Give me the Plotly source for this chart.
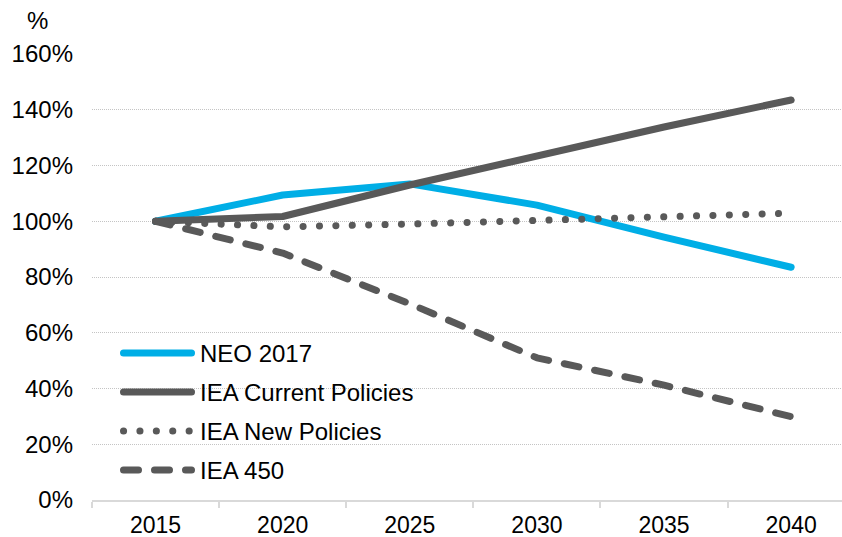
import plotly.graph_objects as go

# Index of emissions relative to 2015 (%), by scenario
years = ["2015", "2020", "2025", "2030", "2035", "2040"]
neo_2017 = [100, 109.4, 113.4, 105.8, 94.3, 83.5]
iea_current = [100, 101.7, 113.0, 123.6, 133.8, 143.5]
iea_new = [100, 98.0, 99.0, 100.4, 101.8, 102.9]
iea_450 = [100, 88.6, 70.4, 51.0, 41.2, 29.9]

series_names = ["NEO 2017", "IEA Current Policies", "IEA New Policies", "IEA 450"]
series_values = [neo_2017, iea_current, iea_new, iea_450]
series_colors = ["#00AEE6", "#595959", "#595959", "#595959"]
series_dash = ["solid", "solid", "0.1px,16.3px", "15px,16px"]

y_ticks = [0, 20, 40, 60, 80, 100, 120, 140, 160]
y_tick_text = [f"{v}%" for v in y_ticks]

FONT = "Liberation Sans, Arial, sans-serif"
W, H = 842, 537
L, R, T, B = 92, 0, 54, 37
LINE_W = 7

fig = go.Figure()
for name, vals, col, dash in zip(series_names, series_values, series_colors, series_dash):
    fig.add_trace(go.Scatter(
        x=years, y=vals, name=name, mode="lines",
        line=dict(color=col, width=LINE_W, dash=dash),
        showlegend=False, hoverinfo="skip",
    ))

# Legend drawn as line samples plus labels inside the plot area
pw, ph = W - L - R, H - T - B
legend_rows_px = [353, 392, 431, 470]
for name, col, dash, ypx in zip(series_names, series_colors, series_dash, legend_rows_px):
    yf = (H - B - ypx) / ph
    fig.add_shape(type="line", xref="paper", yref="paper",
                  x0=(123.5 - L) / pw, x1=(191.5 - L) / pw, y0=yf, y1=yf,
                  line=dict(color=col, width=LINE_W, dash=dash))
    fig.add_annotation(text=name, xref="paper", yref="paper",
                       x=(198 - L) / pw, y=yf, xanchor="left", yanchor="middle",
                       showarrow=False, font=dict(family=FONT, size=24, color="#000000"))

fig.add_annotation(text="%", xref="paper", yref="paper",
                   x=(37 - L) / pw, y=(H - B - 20) / ph, xanchor="center", yanchor="middle",
                   showarrow=False, font=dict(family=FONT, size=24, color="#000000"))

fig.update_layout(
    width=W, height=H,
    margin=dict(l=L, r=R, t=T, b=B, pad=0, autoexpand=False),
    paper_bgcolor="white", plot_bgcolor="white",
    font=dict(family=FONT, size=24, color="#000000"),
    showlegend=False,
)
fig.update_xaxes(
    type="category", range=[-0.5, 5.4], automargin=False,
    showline=True, linecolor="#D9D9D9", linewidth=2,
    ticks="outside", ticklen=6, tickcolor="#D9D9D9", tickwidth=2,
    tickson="boundaries", showgrid=False,
    tickfont=dict(family=FONT, size=23, color="#000000"),
    ticklabelstandoff=3,
)
fig.update_yaxes(
    range=[0, 160], tickvals=y_ticks, ticktext=y_tick_text, automargin=False,
    showgrid=True, gridcolor="#C4C4C4", gridwidth=1, griddash="1px,1px",
    zeroline=False, showline=False, ticks="",
    tickfont=dict(family=FONT, size=24, color="#000000"),
    ticklabelstandoff=18,
)

round_caps = """
var gd = document.getElementById('{plot_id}');
function roundCaps() {
  gd.querySelectorAll('.scatterlayer path.js-line, .shapelayer path').forEach(function (p) {
    p.style.strokeLinecap = 'round';
    p.style.strokeLinejoin = 'round';
  });
}
roundCaps();
gd.on('plotly_afterplot', roundCaps);
"""

fig.write_html("out.html", post_script=round_caps)
